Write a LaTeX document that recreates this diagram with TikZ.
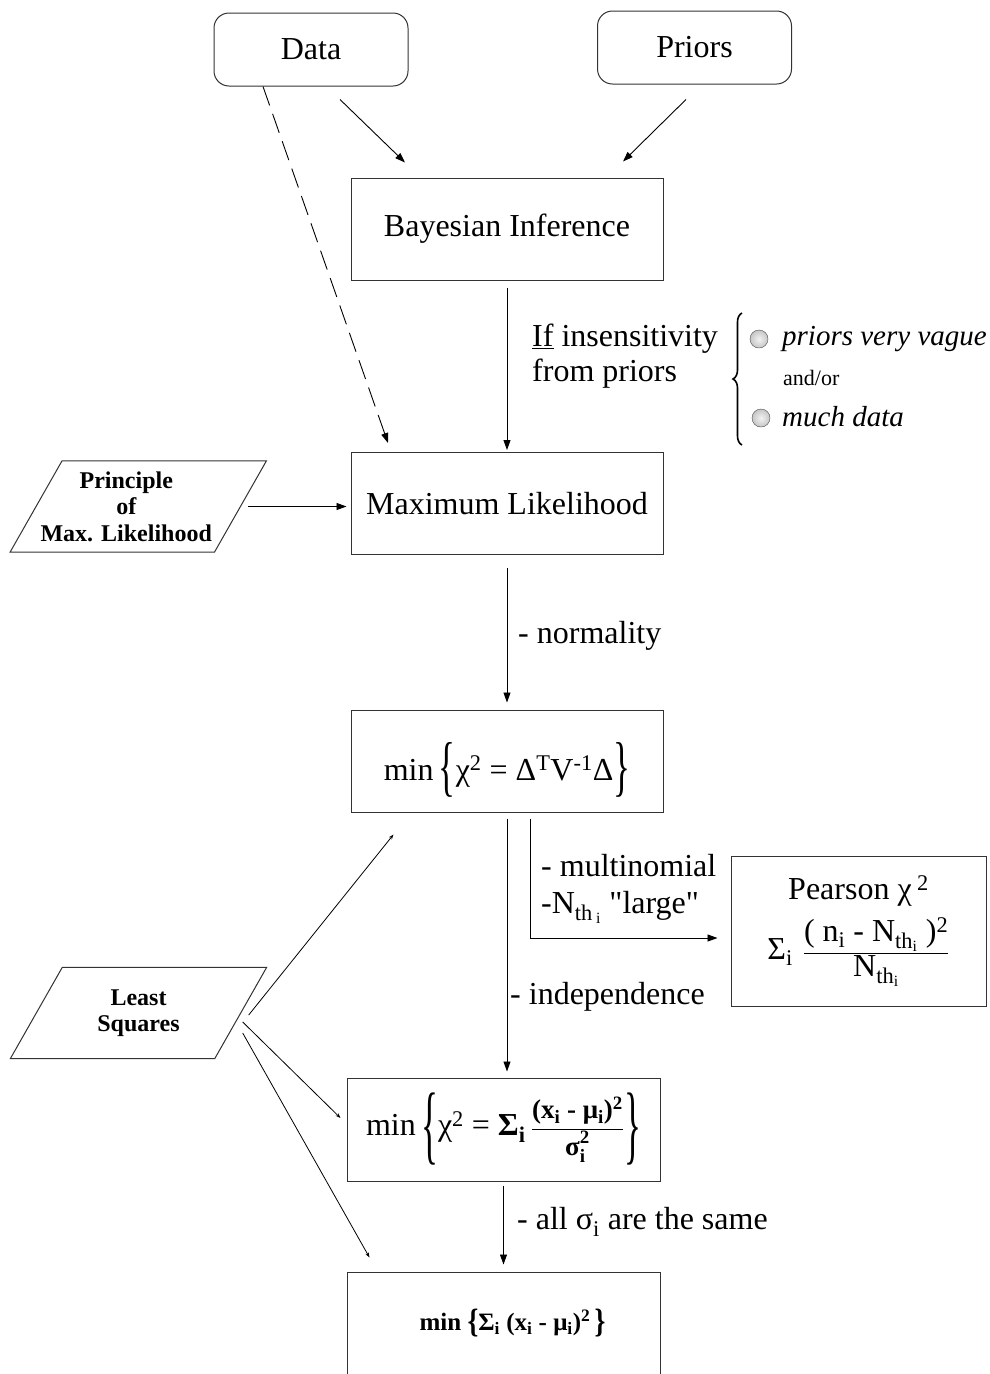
\documentclass[tikz,border=0pt]{standalone}
\usepackage{fontspec}
\usepackage{graphicx}
\setmainfont{Liberation Serif}
\newfontfamily\plainfont{Liberation Serif}
\usetikzlibrary{arrows.meta, positioning, decorations.pathreplacing}

\newcommand{\boxfont}{\fontsize{32}{35}\selectfont}
\newcommand{\notefont}{\fontsize{29}{33}\selectfont\itshape}
\newcommand{\andfont}{\fontsize{22}{26}\selectfont}
\newcommand{\slantfont}{\fontsize{24}{26.5}\selectfont\bfseries}
\newcommand{\fracfont}{\fontsize{27}{30}\selectfont\bfseries}
\newcommand{\lsqfont}{\fontsize{25}{28}\selectfont\bfseries}
% tall brace: glyph, vertical scale, lowering
\newcommand{\tallbrace}[3]{\raisebox{#3}{\scalebox{1.1}[#2]{#1}}}
% parallelogram frame round a named node (optional: text offset)
\newcommand{\slantframe}[2][0pt]{%
  \draw[framecol] ([xshift=26pt+#1]#2.north west) -- ([xshift=26pt+#1]#2.north east)
    -- ([xshift=-26pt+#1]#2.south east) -- ([xshift=-26pt+#1]#2.south west) -- cycle;}

\tikzset{
  every node/.style={font=\boxfont},
  framecol/.style={draw=black!80, line width=1pt},
  stepbox/.style={
    framecol, rectangle,
    minimum width=312pt, minimum height=102pt,
    align=center, inner sep=0pt
  },
  source/.style={
    framecol, rounded corners=15pt,
    minimum width=194pt, minimum height=73pt
  },
  principle/.style={
    rectangle, minimum width=204pt, minimum height=91pt,
    align=center, font=\slantfont, inner sep=0pt
  },
  bullet/.style={
    circle, draw=black!70, inner color=gray!10, outer color=gray!45,
    minimum size=18pt, inner sep=0pt
  },
  lbl/.style={anchor=west, align=left, inner sep=0pt},
  arr/.style={-{Triangle[length=10pt,width=7pt]}, line width=0.9pt},
  thinarr/.style={-{Stealth[length=5pt,width=3.5pt]}, line width=0.8pt},
}

\begin{document}
\begin{tikzpicture}[x=1pt, y=-1pt]
    \useasboundingbox (0,0) rectangle (990,1374);
    \clip (0,0) rectangle (990,1374);
    \fill[white] (0,0) rectangle (990,1374);

    % Sources
    \node[source] (data) at (311,49.5) {Data};
    \node[source] (priors) at (694.5,47.5) {Priors};

    % Main chain of methods
    \node[stepbox] (bayes) at (507,229) {Bayesian Inference};
    \node[stepbox] (maxlik) at (507,503.5) {Maximum Likelihood};
    \node[stepbox, text height=44pt, text depth=6pt] (chisq) at (507,761)
      {min\,\tallbrace{\{}{2.07}{-8.5pt}χ\textsuperscript{2} = Δ\textsuperscript{T}V\textsuperscript{-1}Δ\tallbrace{\}}{2.07}{-8.5pt}};
    \node[stepbox, minimum width=313pt, minimum height=103pt, text height=38pt, text depth=26pt] (chidiag) at (503.5,1129.5)
      {min\,\tallbrace{\{}{2.73}{-18pt}χ\textsuperscript{2} = \textbf{Σ\textsubscript{i}}\,$\displaystyle\frac{\mbox{\fracfont (x\textsubscript{i} - μ\textsubscript{i})\textsuperscript{2}}}{\mbox{\fracfont σ\rlap{\raisebox{-3pt}{\textsubscript{i}}}\raisebox{3pt}{\textsuperscript{2}}}}$\tallbrace{\}}{2.73}{-18pt}};
    \node[stepbox, minimum width=313pt, minimum height=103pt, font=\lsqfont] (lsq) at (503.5,1323.5)
      {\hspace{18pt}min \tallbrace{\{}{1.35}{-2pt}Σ\textsubscript{i} (x\textsubscript{i} - μ\textsubscript{i})\textsuperscript{2}\,\tallbrace{\}}{1.35}{-2pt}};
    \node[stepbox, minimum width=255pt, minimum height=150pt] (pearson) at (858.5,931)
      {Pearson χ\,\textsuperscript{2}\\[10pt]
       Σ\textsubscript{i}\hspace{10pt}$\displaystyle\frac{\mbox{( n\textsubscript{i} - N\textsubscript{th\textsubscript{i}} )\textsuperscript{2}}}{\mbox{N\textsubscript{th\textsubscript{i}}}}$};

    % Principles
    \node[principle] (mlprinc) at (126.25,506.5) {Principle\\of\\Max. Likelihood};
    \slantframe[12pt]{mlprinc}
    \node[principle] (lsprinc) at (138.5,1013) {Least\\Squares};
    \slantframe{lsprinc}

    % Conditions
    \node[lbl] (insens) at (532,356) {\underline{If} insensitivity\\from priors};
    \node[bullet] (dotvague) at (759,339) {};
    \node[lbl, font=\notefont] (vague) at (782,339) {priors very vague};
    \node[lbl, font=\andfont] (andor) at (783,378) {and/or};
    \node[bullet] (dotdata) at (761,418) {};
    \node[lbl, font=\notefont] (much) at (782,417) {much data};
    \coordinate (bracetop) at (742,313);
    \coordinate (bracebot) at (742,445);
    \draw[decorate, decoration={brace, amplitude=9pt}, line width=1.6pt] (bracebot) -- (bracetop);

    \node[lbl] (normal) at (518,636) {- normality};
    \node[lbl] (multi) at (541,889) {- multinomial\\[2pt]-N\textsubscript{th\,\textsubscript{i}} {\plainfont"}large{\plainfont"}};
    \node[lbl] (indep) at (510,997) {- independence};
    \node[lbl] (same) at (517,1222) {- all σ\textsubscript{i} are the same};

    % Connectors
    \draw[arr] ([xshift=29pt,yshift=-13pt]data.south) -- ([xshift=-102pt,yshift=15pt]bayes.north);
    \draw[arr] ([xshift=-8.5pt,yshift=-15pt]priors.south) -- ([xshift=116pt,yshift=16pt]bayes.north);
    \draw[arr, dash pattern=on 20pt off 9pt] ([xshift=-48pt]data.south) -- ([xshift=-119pt,yshift=9pt]maxlik.north);
    \draw[arr, shorten <=7pt, shorten >=2pt] (bayes) -- (maxlik);
    \draw[arr, shorten <=20pt, shorten >=4pt] (mlprinc.east) -- (mlprinc.east -| maxlik.west);
    \draw[arr, shorten <=13pt, shorten >=7pt] (maxlik) -- (chisq);
    \draw[arr, shorten <=6pt, shorten >=6pt] (chisq.south) -- (chisq.south |- chidiag.north);
    \draw[arr, shorten <=6pt, shorten >=13pt] ([xshift=23pt]chisq.south) |- ([yshift=-7pt]pearson.west);
    \draw[arr, shorten <=4pt, shorten >=7pt] (chidiag.south) -- (chidiag.south |- lsq.north);

    \draw[thinarr] ([xshift=8pt,yshift=-2pt]lsprinc.east) -- ([xshift=43pt,yshift=-22pt]chisq.south west);
    \draw[thinarr] ([xshift=2pt,yshift=-9pt]lsprinc.east) -- ([xshift=-6pt,yshift=11.5pt]chidiag.west);
    \draw[thinarr] ([xshift=2pt,yshift=-20pt]lsprinc.east) -- ([xshift=23pt,yshift=14pt]lsq.north west);

\end{tikzpicture}
\end{document}
